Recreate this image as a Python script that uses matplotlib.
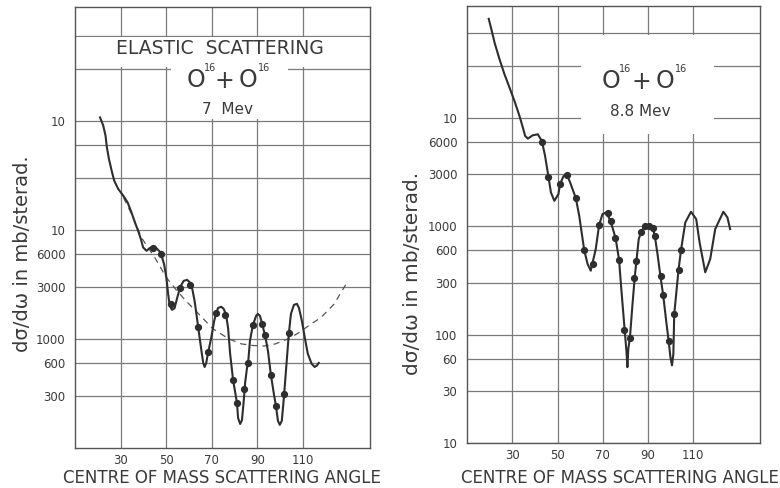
import numpy as np
import matplotlib
matplotlib.use("Agg")
import matplotlib.pyplot as plt
from matplotlib.patches import Rectangle

# ---------------- data: 7 MeV panel ----------------
curve7_angle = [21.0, 22.4, 23.4, 24.0, 24.9, 26.1, 27.2, 29.0, 31.2, 33.1, 34.8, 36.3,
                37.7, 38.9, 39.9, 41.4, 42.8, 44.3, 45.7, 47.6, 49.1, 50.1, 50.9, 51.6,
                52.6, 53.7, 54.9, 56.2, 57.7, 59.2, 60.5, 61.5, 62.5, 63.7, 64.7, 65.4,
                66.3, 66.9, 67.6, 68.5, 69.8, 71.1, 72.0, 72.8, 74.2, 75.3, 76.3, 77.2,
                78.1, 79.4, 81.1, 81.6, 82.5, 83.3, 84.0, 84.7, 85.5, 86.0, 86.8, 88.1,
                89.5, 90.3, 91.2, 92.1, 93.4, 94.7, 96.0, 97.3, 98.2, 99.1, 99.9, 100.8,
                101.7, 102.6, 103.9, 104.8, 106.1, 107.4, 108.3, 109.6, 110.9, 112.2,
                113.9, 115.2, 116.2, 117.0]
curve7_value = [107000, 90000, 72800, 56900, 44500, 34700, 28200, 23600, 20500, 17800, 14400, 11700,
                9790, 8220, 6890, 6410, 6790, 7030, 6790, 6190, 4840, 3650, 2570, 2010,
                1845, 1910, 2395, 3000, 3400, 3475, 3285, 2860, 2230, 1465, 1030, 805,
                600, 553, 602, 760, 1020, 1460, 1730, 1920, 1970, 1880, 1660, 1260,
                730, 420, 259, 188, 166, 180, 260, 400, 540, 602, 960, 1340,
                1625, 1695, 1625, 1375, 1090, 776, 468, 313, 243, 177, 163, 178,
                290, 508, 1135, 1695, 2050, 2095, 1925, 1460, 1020, 730,
                590, 553, 570, 602]

dots7_angle = [44.4, 47.9, 52.3, 56.2, 60.6, 64.1, 68.5, 72.0, 75.9, 79.4, 81.1, 84.2,
               86.0, 88.1, 92.1, 93.4, 96.0, 98.2, 101.7, 103.9]
dots7_value = [6840, 6030, 2095, 2940, 3130, 1290, 760, 1730, 1660, 420, 259, 348,
               602, 1340, 1375, 1090, 468, 243, 313, 1135]

dash7_angle = [31.3, 34.8, 39.2, 45.0, 50.1, 54.5, 58.5, 62.0, 65.4, 70.5, 77.5, 83.0,
               88.0, 93.0, 98.0, 103.0, 108.0, 113.0, 118.0, 123.7, 128.8]
dash7_value = [19700, 14000, 8450, 5570, 3650, 2800, 2250, 1900, 1600, 1240, 1000, 900,
               870, 860, 900, 990, 1130, 1340, 1570, 2080, 3125]

# ---------------- data: 8.8 MeV panel ----------------
curve88_angle = [19.6, 20.8, 22.2, 24.4, 26.6, 28.8, 31.0, 33.2, 34.7, 35.7, 36.9, 39.1,
                 41.3, 43.1, 44.5, 45.7, 47.1, 48.6, 50.4, 51.1, 52.7, 54.2, 55.6, 58.1,
                 59.6, 61.8, 63.3, 64.7, 66.9, 68.4, 69.9, 71.6, 73.5, 75.7, 77.2, 78.2,
                 79.7, 80.5, 80.9, 81.3, 82.0, 83.1, 84.1, 84.9, 85.9, 87.0, 88.9, 90.4,
                 92.1, 93.0, 94.3, 95.5, 96.7, 98.1, 99.1, 99.9, 100.6, 101.2, 101.6, 103.5,
                 104.6, 106.5, 109.0, 111.3, 112.8, 115.3, 117.5, 119.7, 123.3, 125.1, 126.3]
curve88_value = [81500, 64900, 49000, 34400, 25000, 18900, 14200, 10350, 8090, 6780, 6410, 6880,
                 7020, 6090, 4440, 3120, 2040, 1710, 1970, 2430, 2900, 2965, 2520, 1810,
                 1245, 601, 447, 388, 614, 1028, 1290, 1336, 1105, 771, 490, 263,
                 109, 69, 50, 74, 93, 185, 333, 480, 759, 887, 1028, 1006,
                 953, 815, 533, 344, 232, 130, 88, 62, 52, 66, 155, 396,
                 605, 1082, 1355, 1160, 708, 375, 497, 938, 1355, 1203, 938]

dots88_angle = [43.2, 46.0, 51.1, 54.2, 58.3, 61.8, 65.7, 68.4, 72.1, 73.5, 75.5, 77.3,
                79.6, 81.9, 83.8, 84.9, 87.0, 88.5, 90.4, 92.1, 93.0, 95.7, 96.7, 99.3,
                101.6, 103.5, 104.6]
dots88_value = [5990, 2850, 2430, 2965, 1810, 604, 447, 1028, 1318, 1105, 771, 489,
                109, 92, 333, 477, 881, 994, 1006, 953, 815, 344, 231, 87,
                155, 396, 605]

x_ticks = [30, 50, 70, 90, 110]
y7_ticks = [300, 600, 1000, 3000, 6000, 1e4, 3e4, 6e4, 1e5, 3e5, 6e5]
y7_labels = ["300", "600", "1000", "3000", "6000", "10", "", "", "10", "", ""]
y88_ticks = [10, 30, 60, 100, 300, 600, 1000, 3000, 6000, 1e4, 3e4, 6e4]
y88_labels = ["10", "30", "60", "100", "300", "600", "1000", "3000", "6000", "10", "", ""]

x_title = "CENTRE OF MASS SCATTERING ANGLE"
y_title = "dσ/dω in mb/sterad."

INK = "#2e2e2e"
GRID = "#7a7a7a"
TXT = "#3a3a3a"

plt.rcParams['font.family'] = ['DejaVu Sans']
fig = plt.figure(figsize=(7.8, 4.88), dpi=100)
fig.patch.set_facecolor("white")

W, H = 780.0, 488.0
ax1 = fig.add_axes([75 / W, (H - 448) / H, 295 / W, 441 / H])
ax2 = fig.add_axes([467 / W, (H - 443) / H, 293 / W, 437 / H])


def style(ax, yt, yl, ylim):
    ax.set_yscale("log")
    ax.set_xlim(10, 139.5)
    ax.set_ylim(*ylim)
    ax.set_xticks(x_ticks)
    ax.set_xticklabels([str(v) for v in x_ticks])
    ax.set_yticks(yt)
    ax.set_yticklabels(yl)
    ax.yaxis.set_minor_locator(matplotlib.ticker.NullLocator())
    ax.xaxis.set_minor_locator(matplotlib.ticker.NullLocator())
    ax.tick_params(length=0, labelsize=8.5, labelcolor=TXT)
    ax.tick_params(axis="y", pad=7)
    ax.tick_params(axis="x", pad=4)
    ax.grid(True, color=GRID, lw=0.9)
    ax.set_axisbelow(True)
    for s in ax.spines.values():
        s.set_color("#555555")
        s.set_linewidth(1.0)


style(ax1, y7_ticks, y7_labels, (100, 1.1e6))
style(ax2, y88_ticks, y88_labels, (10, 1.07e5))

# axis titles
fig.text(222 / W, 1 - 478 / H, x_title, ha="center", va="center", fontsize=12, color=TXT)
fig.text(620 / W, 1 - 478 / H, x_title, ha="center", va="center", fontsize=12, color=TXT)
fig.text(23 / W, 1 - 254 / H, y_title, ha="center", va="center", rotation=90,
         fontsize=14, color=TXT)
fig.text(413 / W, 1 - 273 / H, y_title, ha="center", va="center", rotation=90,
         fontsize=14.5, color=TXT)


# masks that interrupt the grid behind the lettering
def mask(ax, x0, x1, y0, y1):
    ax.add_patch(Rectangle((x0, y0), x1 - x0, y1 - y0, facecolor="white",
                           edgecolor="none", zorder=1.5))


mask(ax1, 11, 138, 3.08e5, 5.85e5)
mask(ax1, 52.3, 103.4, 1.03e5, 5.85e5)
mask(ax2, 60.3, 119.2, 7000, 5.8e4)

# 7 MeV curves
ax1.plot(dash7_angle, dash7_value, color="#555555", lw=0.9, ls=(0, (5, 4)), zorder=3)
ax1.plot(curve7_angle, curve7_value, color=INK, lw=1.5, zorder=4)
ax1.plot(dots7_angle, dots7_value, "o", color=INK, ms=4.2, zorder=5)

# 8.8 MeV curves
ax2.plot(curve88_angle, curve88_value, color=INK, lw=1.5, zorder=4)
ax2.plot(dots88_angle, dots88_value, "o", color=INK, ms=4.2, zorder=5)


# lettering
def reaction(xs, y):
    o1, s1, p, o2, s2 = xs
    fig.text(o1 / W, 1 - y / H, "O", ha="center", va="center", fontsize=17, color=TXT)
    fig.text(s1 / W, 1 - (y - 12) / H, "16", ha="center", va="center", fontsize=7, color=TXT)
    fig.text(p / W, 1 - (y + 1) / H, "+", ha="center", va="center", fontsize=17, color=TXT)
    fig.text(o2 / W, 1 - y / H, "O", ha="center", va="center", fontsize=17, color=TXT)
    fig.text(s2 / W, 1 - (y - 12) / H, "16", ha="center", va="center", fontsize=7, color=TXT)


fig.text(220 / W, 1 - 49 / H, "ELASTIC  SCATTERING", ha="center", va="center",
         fontsize=13.5, color=TXT)
reaction((196, 210, 224, 248, 264), 80)
fig.text(228 / W, 1 - 110 / H, "7  Mev", ha="center", va="center", fontsize=11, color=TXT)

reaction((611, 625, 641, 665, 681), 81)
fig.text(640 / W, 1 - 111 / H, "8.8 Mev", ha="center", va="center", fontsize=11, color=TXT)

fig.savefig("out.png", dpi=100, facecolor="white")
